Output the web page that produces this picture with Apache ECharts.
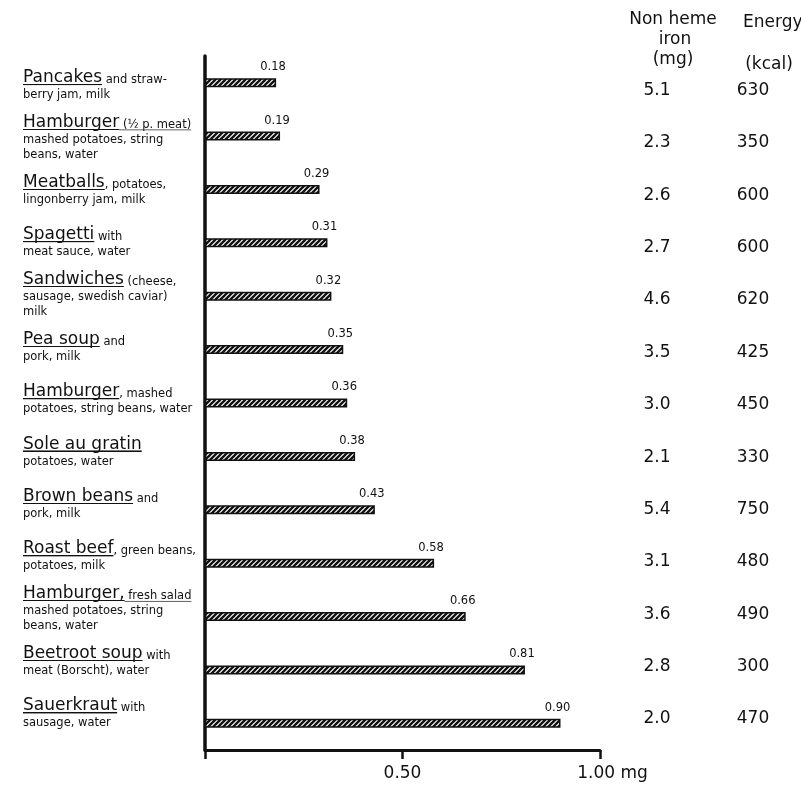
<!DOCTYPE html>
<html><head><meta charset="utf-8">
<script src="https://cdn.jsdelivr.net/npm/echarts@6/dist/echarts.min.js"></script>
<style>html,body{margin:0;padding:0;background:#fff}#c{width:801px;height:797px}</style>
</head><body><div id="c"></div>
<script>
// ---- data ----
const mainNames = ['Pancakes','Hamburger','Meatballs','Spagetti','Sandwiches','Pea soup','Hamburger','Sole au gratin','Brown beans','Roast beef','Hamburger,','Beetroot soup','Sauerkraut'];
const mainExtra = ['', ' (½ p. meat)', '', '', '', '', '', '', '', '', ' fresh salad', '', ''];
const firstLineRest = [' and straw-', '', ', potatoes,', ' with', ' (cheese,', ' and', ', mashed', '', ' and', ', green beans,', '', ' with', ' with'];
const moreLines = [
  ['berry jam, milk'],
  ['mashed potatoes, string','beans, water'],
  ['lingonberry jam, milk'],
  ['meat sauce, water'],
  ['sausage, swedish caviar)','milk'],
  ['pork, milk'],
  ['potatoes, string beans, water'],
  ['potatoes, water'],
  ['pork, milk'],
  ['potatoes, milk'],
  ['mashed potatoes, string','beans, water'],
  ['meat (Borscht), water'],
  ['sausage, water']
];
const values = [0.18,0.19,0.29,0.31,0.32,0.35,0.36,0.38,0.43,0.58,0.66,0.81,0.90];
const ironMg = ['5.1','2.3','2.6','2.7','4.6','3.5','3.0','2.1','5.4','3.1','3.6','2.8','2.0'];
const energyKcal = ['630','350','600','600','620','425','450','330','750','480','490','300','470'];
const xTickLabels = {0.5:'0.50', 1:'1.00'};
const xUnit = ' mg';

const cats = mainNames.map((n,i)=>String(i));

// underline image
const ul = document.createElement('canvas'); ul.width = 4; ul.height = 40;
{ const g = ul.getContext('2d'); g.fillStyle = '#111'; g.fillRect(0,35,4,3); }
// hatch pattern
const hatch = document.createElement('canvas'); hatch.width = 5; hatch.height = 5;
{ const g = hatch.getContext('2d'); g.fillStyle='#fff'; g.fillRect(0,0,5,5);
  g.strokeStyle='#111'; g.lineWidth=2.3;
  g.beginPath(); g.moveTo(-1,6); g.lineTo(6,-1); g.stroke();
  g.beginPath(); g.moveTo(-1,1); g.lineTo(1,-1); g.stroke();
  g.beginPath(); g.moveTo(4,6); g.lineTo(6,4); g.stroke(); }

const FONT = '"DejaVu Sans"';
const INK = '#111';
const LEFT = 205, RIGHT = 201;
const chart = echarts.init(document.getElementById('c'), null, {renderer:'canvas'});
chart.setOption({
  animation:false,
  backgroundColor:'#fff',
  textStyle:{fontFamily:FONT, color:INK},
  grid:[
    {left:LEFT, right:RIGHT, top:56, bottom:47},
    {left:LEFT, right:RIGHT, top:57.5, bottom:59}
  ],
  xAxis:[
    {type:'value', gridIndex:0, min:0, max:1, interval:0.5,
      splitLine:{show:false},
      axisLine:{show:true, lineStyle:{color:INK, width:3}},
      axisTick:{show:true, length:9, lineStyle:{color:INK, width:2.5}},
      axisLabel:{margin:15, fontFamily:FONT, color:INK, fontSize:17,
        formatter:function(v){ if(v===1) return '{p|'+xTickLabels[1]+'}{u|'+xUnit+'}'; return xTickLabels[v]||''; },
        rich:{p:{fontSize:17, fontFamily:FONT, color:INK, padding:[0,0,0,25]}, u:{fontSize:17, fontFamily:FONT, color:INK}}}
    },
    {type:'value', gridIndex:1, min:0, max:1, show:false}
  ],
  yAxis:[
    {type:'category', gridIndex:0, data:cats, inverse:true,
      axisLine:{show:true, lineStyle:{color:INK, width:3.5}},
      axisTick:{show:false}, axisLabel:{show:false}},
    {type:'category', gridIndex:1, data:cats, inverse:true,
      axisLine:{show:false}, axisTick:{show:false},
      axisLabel:{interval:0, align:'left', margin:182, fontFamily:FONT,
        formatter:function(v){ const i=+v;
          let s = '{m|'+mainNames[i]+'}';
          if(mainExtra[i]) s += '{mu|'+mainExtra[i]+'}';
          if(firstLineRest[i]) s += '{s|'+firstLineRest[i]+'}';
          moreLines[i].forEach(l=>{ s += '\n{s|'+l+'}'; });
          return s; },
        rich:{
          m:{fontSize:17, lineHeight:20, fontFamily:FONT, color:INK, verticalAlign:'bottom', backgroundColor:{image:ul}},
          mu:{fontSize:11.5, lineHeight:20, fontFamily:FONT, color:INK, verticalAlign:'bottom', backgroundColor:{image:ul}},
          s:{fontSize:11.5, lineHeight:15, fontFamily:FONT, color:INK, verticalAlign:'bottom'}
        }}
    },
    {type:'category', gridIndex:1, data:ironMg, inverse:true, position:'right',
      axisLine:{show:false}, axisTick:{show:false},
      axisLabel:{interval:0, align:'center', verticalAlign:'top', lineHeight:14, margin:57, fontSize:17, fontFamily:FONT, color:INK}},
    {type:'category', gridIndex:1, data:energyKcal, inverse:true, position:'right',
      axisLine:{show:false}, axisTick:{show:false},
      axisLabel:{interval:0, align:'center', verticalAlign:'top', lineHeight:14, margin:153, fontSize:17, fontFamily:FONT, color:INK}}
  ],
  series:[{
    type:'bar', data:values, barWidth:9, xAxisIndex:0, yAxisIndex:0,
    itemStyle:{color:{image:hatch, repeat:'repeat'}, borderColor:INK, borderWidth:1.5},
    label:{show:true, position:['100%',0], align:'center', verticalAlign:'bottom', offset:[-3,-5],
      fontSize:11.5, fontFamily:FONT, color:INK, formatter:p=>p.value.toFixed(2)}
  }],
  graphic:[
    {type:'text', x:673, y:20, style:{text:'Non heme', font:'17px '+FONT, fill:INK, align:'center', verticalAlign:'middle'}},
    {type:'text', x:675, y:40, style:{text:'iron', font:'17px '+FONT, fill:INK, align:'center', verticalAlign:'middle'}},
    {type:'text', x:673, y:60, style:{text:'(mg)', font:'17px '+FONT, fill:INK, align:'center', verticalAlign:'middle'}},
    {type:'text', x:743, y:23, style:{text:'Energy', font:'17px '+FONT, fill:INK, align:'left', verticalAlign:'middle'}},
    {type:'text', x:769, y:65, style:{text:'(kcal)', font:'17px '+FONT, fill:INK, align:'center', verticalAlign:'middle'}}
  ]
});
</script></body></html>
